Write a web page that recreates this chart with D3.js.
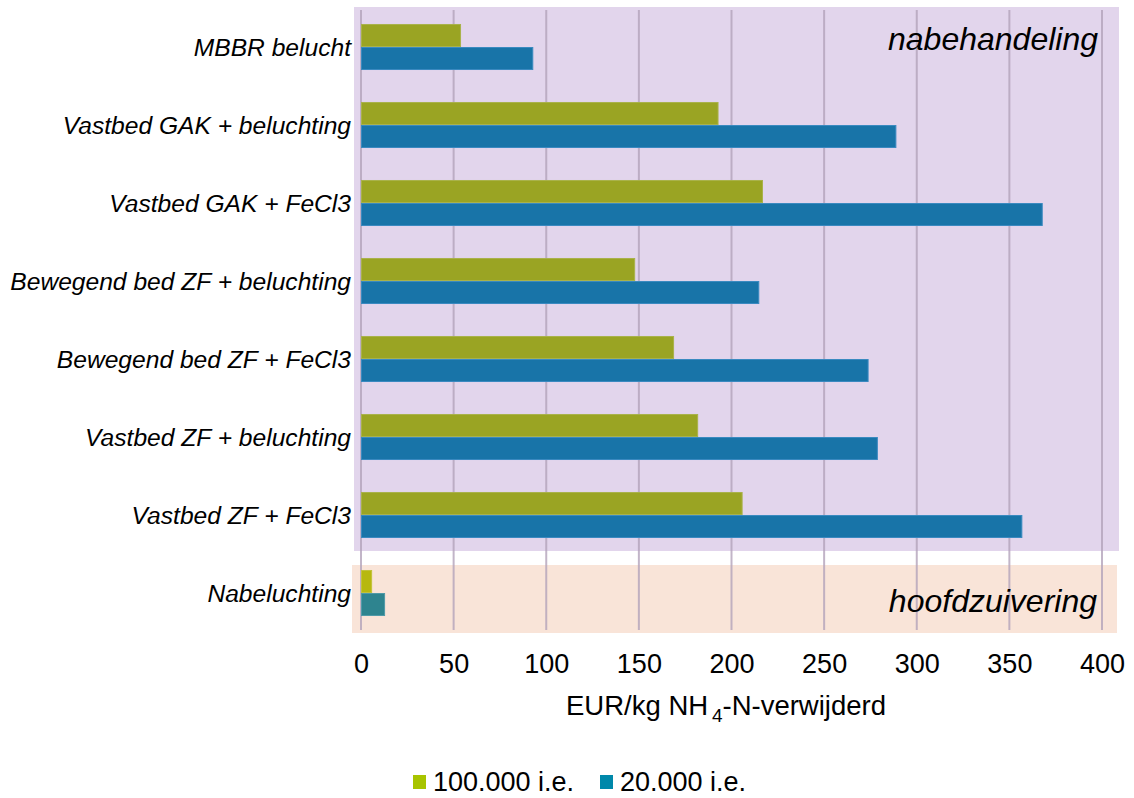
<!DOCTYPE html>
<html><head><meta charset="utf-8">
<script src="https://cdn.jsdelivr.net/npm/d3@7"></script>
<style>body{margin:0;background:#fff;} text{font-family:"Liberation Sans",Arial,sans-serif;}</style>
</head><body><svg id="c" width="1134" height="798"></svg>
<script>
const categories = ["MBBR belucht","Vastbed GAK + beluchting","Vastbed GAK + FeCl3","Bewegend bed ZF + beluchting","Bewegend bed ZF + FeCl3","Vastbed ZF + beluchting","Vastbed ZF + FeCl3","Nabeluchting"];
const groups = ["nabehandeling","nabehandeling","nabehandeling","nabehandeling","nabehandeling","nabehandeling","nabehandeling","hoofdzuivering"];
const seriesNames = ["100.000 i.e.","20.000 i.e."];
const values100k = [54,193,217,148,169,182,206,6];
const values20k = [93,289,368,215,274,279,357,13];
const xTicks = [0,50,100,150,200,250,300,350,400];

const svg = d3.select("#c");
const x = d3.scaleLinear().domain([0,400]).range([361,1102]);
const y = d3.scaleBand().domain(categories).range([8,632]).paddingInner(0.41).paddingOuter(0.205);
const ys = d3.scaleBand().domain(seriesNames).range([0,y.bandwidth()]);

// panels
const panelFill = {nabehandeling:"#e2d5ec", hoofdzuivering:"#f9e4d8"};
const panels = [
  {name:"nabehandeling", x0:354, x1:1119, y0:7, y1:551},
  {name:"hoofdzuivering", x0:352, x1:1117, y0:565, y1:633}
];
svg.selectAll("rect.panel").data(panels).enter().append("rect")
  .attr("x",d=>d.x0).attr("y",d=>d.y0).attr("width",d=>d.x1-d.x0).attr("height",d=>d.y1-d.y0)
  .attr("fill",d=>panelFill[d.name]);

// gridlines
svg.selectAll("line.grid").data(xTicks).enter().append("line")
  .attr("x1",d=>x(d)).attr("x2",d=>x(d)).attr("y1",10).attr("y2",630)
  .attr("stroke","#b3a3ba").attr("stroke-opacity",0.8).attr("stroke-width",2);

// bar colors per panel
const colors = {
  nabehandeling: ["#9aa423","#1874a8"],
  hoofdzuivering: ["#b7b80f","#2e848f"]
};
const strokeCols = {
  nabehandeling: ["#a9b24a","#3a8ac0"],
  hoofdzuivering: ["#c2c23a","#4f9aa8"]
};
const rows = categories.map((c,i)=>({cat:c, group:groups[i], vals:[values100k[i],values20k[i]]}));
const g = svg.selectAll("g.row").data(rows).enter().append("g").attr("transform",d=>`translate(0,${y(d.cat)})`);
g.selectAll("rect").data(d=>d.vals.map((v,k)=>({v,k,group:d.group}))).enter().append("rect")
  .attr("x",x(0)+0.5).attr("y",d=>ys(seriesNames[d.k])+0.5)
  .attr("width",d=>x(d.v)-x(0)-1).attr("height",ys.bandwidth()-1)
  .attr("fill",d=>colors[d.group][d.k]).attr("stroke",d=>strokeCols[d.group][d.k]).attr("stroke-width",1);

// category labels
svg.selectAll("text.cat").data(categories).enter().append("text")
  .attr("x",351).attr("y",d=>y(d)+y.bandwidth()/2).attr("dy","0.35em")
  .attr("text-anchor","end").attr("font-style","italic").attr("font-size",24.6).attr("fill","#000")
  .text(d=>d);

// panel labels
svg.append("text").attr("x",1098).attr("y",50).attr("text-anchor","end").attr("font-style","italic").attr("font-size",32).text("nabehandeling");
svg.append("text").attr("x",1097).attr("y",612).attr("text-anchor","end").attr("font-style","italic").attr("font-size",32).text("hoofdzuivering");

// x axis
const ax = svg.append("g").attr("transform","translate(0,673)")
  .call(d3.axisBottom(x).tickValues(xTicks).tickSize(0).tickPadding(0));
ax.select(".domain").remove();
ax.selectAll("text").attr("font-size",27).attr("fill","#000").attr("dy",0).attr("y",0).style("font-family","Liberation Sans, Arial, sans-serif");

// axis title
const t = svg.append("text").attr("x",726).attr("y",715).attr("text-anchor","middle").attr("font-size",27.5).attr("fill","#000");
t.append("tspan").text("EUR/kg NH");
t.append("tspan").attr("dy",7).attr("font-size",19).text("\u20094");
t.append("tspan").attr("dy",-7).text("-N-verwijderd");

// legend
const legendColors = ["#a8c400","#0088aa"];
const lx = [413, 600];
const lg = svg.selectAll("g.leg").data(seriesNames).enter().append("g").attr("transform",(d,i)=>`translate(${lx[i]},775)`);
lg.append("rect").attr("width",13).attr("height",14).attr("fill",(d,i)=>legendColors[i]);
lg.append("text").attr("x",20).attr("y",16).attr("font-size",27).attr("fill","#000").text(d=>d);
</script></body></html>
